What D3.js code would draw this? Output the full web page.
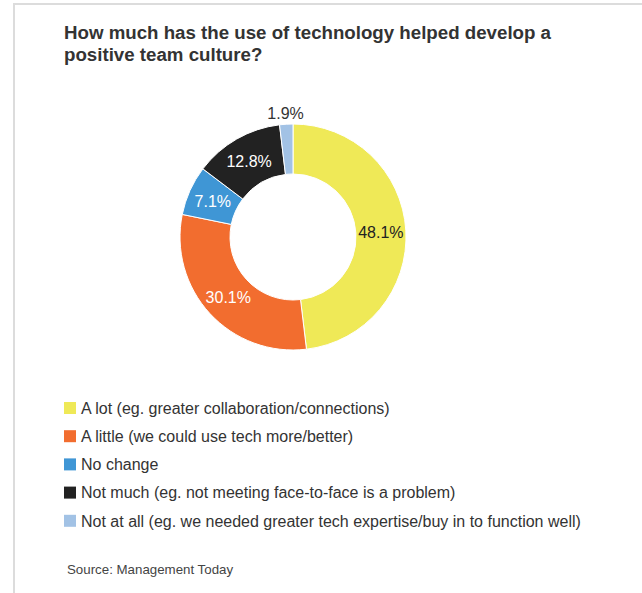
<!DOCTYPE html>
<html>
<head>
<meta charset="utf-8">
<script src="https://cdn.jsdelivr.net/npm/d3@7"></script>
<style>
  body { margin: 0; background: #fff; }
  text { font-family: "Liberation Sans", Arial, Helvetica, sans-serif; }
</style>
</head>
<body>
<div id="chart"></div>
<script>
var categories = [
  "A lot (eg. greater collaboration/connections)",
  "A little (we could use tech more/better)",
  "No change",
  "Not much (eg. not meeting face-to-face is a problem)",
  "Not at all (eg. we needed greater tech expertise/buy in to function well)"
];
var values = [48.1, 30.1, 7.1, 12.8, 1.9];
var colors = ["#efe957", "#f26d2f", "#3f96d5", "#222222", "#a2c2e5"];
var labelColors = ["#222", "#fff", "#fff", "#fff", "#333"];
var titleLines = ["How much has the use of technology helped develop a", "positive team culture?"];
var source = "Source: Management Today";

var svg = d3.select("#chart")
  .append("svg")
  .attr("width", 642).attr("height", 593);

// light frame
svg.append("path")
  .attr("d", "M14,593 V4 H642")
  .attr("fill", "none")
  .attr("stroke", "#dcdcdc")
  .attr("stroke-width", 2);

//title
svg.selectAll(".title")
  .data(titleLines)
  .enter().append("text")
  .attr("class", "title")
  .attr("x", 64)
  .attr("y", function(d, i) { return 39 + i * 22; })
  .attr("font-size", "18.7px")
  .attr("font-weight", "bold")
  .attr("fill", "#333")
  .text(function(d) { return d; });

//donut
var cx = 293, cy = 237, outerR = 113, innerR = 63;

var pie = d3.pie().sort(null).value(function(d) { return d; });
var arc = d3.arc().innerRadius(innerR).outerRadius(outerR);
var outerArc = d3.arc().innerRadius(125).outerRadius(125);

var g = svg.append("g").attr("transform", "translate(" + cx + "," + cy + ")");
var arcs = pie(values);

g.selectAll("path")
  .data(arcs)
  .enter().append("path")
  .attr("d", arc)
  .attr("fill", function(d, i) { return colors[i]; })
  .attr("stroke", "#fff")
  .attr("stroke-width", 1);

g.selectAll(".lbl")
  .data(arcs)
  .enter().append("text")
  .attr("class", "lbl")
  .attr("transform", function(d) {
    var p = (d.data < 5) ? outerArc.centroid(d) : arc.centroid(d);
    return "translate(" + p + ")";
  })
  .attr("text-anchor", "middle")
  .attr("dy", "0.4em")
  .attr("font-size", "16px")
  .attr("fill", function(d, i) { return labelColors[i]; })
  .text(function(d) { return d.data.toFixed(1) + "%"; });

//legend
var legend = svg.selectAll(".legend")
  .data(categories)
  .enter().append("g")
  .attr("class", "legend")
  .attr("transform", function(d, i) { return "translate(64," + (408 + i * 28.2) + ")"; });

legend.append("rect")
  .attr("x", 0).attr("y", -6)
  .attr("width", 12).attr("height", 12)
  .attr("fill", function(d, i) { return colors[i]; });

legend.append("text")
  .attr("x", 17)
  .attr("dy", "0.36em")
  .attr("font-size", "16px")
  .attr("fill", "#333")
  .text(function(d) { return d; });

//source
svg.append("text")
  .attr("x", 67).attr("y", 574)
  .attr("font-size", "13.3px")
  .attr("fill", "#444")
  .text(source);
</script>
</body>
</html>
